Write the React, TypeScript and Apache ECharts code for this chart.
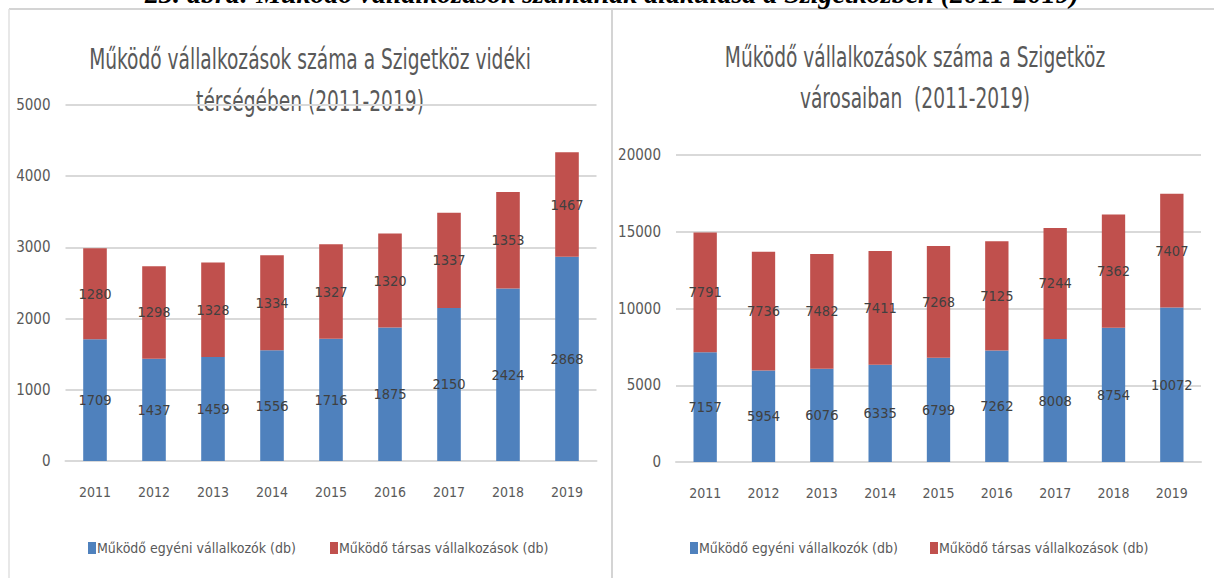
import React, { useEffect, useRef } from "react";
import * as echarts from "echarts";

const years = ["2011", "2012", "2013", "2014", "2015", "2016", "2017", "2018", "2019"];
const ruralIndividual = [1709, 1437, 1459, 1556, 1716, 1875, 2150, 2424, 2868];
const ruralCompany = [1280, 1298, 1328, 1334, 1327, 1320, 1337, 1353, 1467];
const townIndividual = [7157, 5954, 6076, 6335, 6799, 7262, 8008, 8754, 10072];
const townCompany = [7791, 7736, 7482, 7411, 7268, 7125, 7244, 7362, 7407];

const seriesNames = ["Működő egyéni vállalkozók (db)", "Működő társas vállalkozások (db)"];
const leftTitle = ["Működő vállalkozások száma a Szigetköz vidéki", "térségében (2011-2019)"];
const rightTitle = ["Működő vállalkozások száma a Szigetköz", "városaiban  (2011-2019)"];
const caption = "23. ábra: Működő vállalkozások számának alakulása a Szigetközben (2011-2019)";

const FONT = "'DejaVu Sans Condensed', 'Liberation Sans Narrow', sans-serif";
const BLUE = "#4F81BD";
const RED = "#C0504D";
const GRID = "#D9D9D9";
const TXT = "#595959";

export default function App() {
  const ref = useRef<HTMLDivElement>(null);
  useEffect(() => {
    if (!ref.current) return;
    const chart = echarts.init(ref.current, undefined, { renderer: "svg" });
    const xAxisBase = (gridIndex: number) => ({
      type: "category",
      gridIndex,
      data: years,
      axisLine: { lineStyle: { color: GRID, width: 2 } },
      axisTick: { show: false },
      axisLabel: { color: TXT, fontFamily: FONT, fontSize: 14, margin: 24 },
    });
    const yAxisBase = (gridIndex: number, max: number, interval: number) => ({
      type: "value",
      gridIndex,
      min: 0,
      max,
      interval,
      axisLine: { show: false },
      axisTick: { show: false },
      axisLabel: {
        color: TXT,
        fontFamily: FONT,
        fontSize: 15,
        margin: 15,
        formatter: (v: number) => String(v),
      },
      splitLine: { lineStyle: { color: GRID, width: 2 } },
    });
    const barSeries = (name: string, data: number[], color: string, idx: number, stack: string) => ({
      type: "bar",
      name,
      data,
      stack,
      xAxisIndex: idx,
      yAxisIndex: idx,
      barWidth: "40%",
      itemStyle: { color },
      label: {
        show: true,
        position: "inside",
        color: "#404040",
        fontFamily: FONT,
        fontSize: 14.5,
      },
    });
    const legendItem = (name: string, left: number) => ({
      data: [name],
      left,
      top: 541,
      itemWidth: 8,
      itemHeight: 12,
      itemGap: 0,
      padding: 0,
      icon: "rect",
      textStyle: { color: TXT, fontFamily: FONT, fontSize: 14, padding: [0, 0, 0, -4] },
    });
    const titleLine = (text: string, x: number, y: number) => ({
      type: "text",
      x,
      y,
      scaleY: 1.4,
      style: {
        text,
        textAlign: "center",
        textVerticalAlign: "middle",
        fill: TXT,
        font: `normal 20.7px ${FONT}`,
      },
    });
    chart.setOption({
      animation: false,
      backgroundColor: "#ffffff",
      legend: [
        legendItem(seriesNames[0], 88),
        legendItem(seriesNames[1], 330),
        legendItem(seriesNames[0], 690),
        legendItem(seriesNames[1], 930),
      ],
      grid: [
        { left: 65.5, right: 617.5, top: 105, bottom: 117 },
        { left: 676, right: 13, top: 155, bottom: 116 },
      ],
      xAxis: [xAxisBase(0), xAxisBase(1)],
      yAxis: [yAxisBase(0, 5000, 1000), yAxisBase(1, 20000, 5000)],
      series: [
        barSeries(seriesNames[0], ruralIndividual, BLUE, 0, "left"),
        barSeries(seriesNames[1], ruralCompany, RED, 0, "left"),
        barSeries(seriesNames[0], townIndividual, BLUE, 1, "right"),
        barSeries(seriesNames[1], townCompany, RED, 1, "right"),
      ],
      graphic: [
        { type: "line", shape: { x1: 9, y1: 9, x2: 1214, y2: 9 }, style: { stroke: "#D4D4D4", lineWidth: 2 } },
        { type: "line", shape: { x1: 9, y1: 9, x2: 9, y2: 578 }, style: { stroke: "#E0E0E0", lineWidth: 1.5 } },
        { type: "line", shape: { x1: 612, y1: 9, x2: 612, y2: 578 }, style: { stroke: "#D4D4D4", lineWidth: 2 } },
        titleLine(leftTitle[0], 310, 59),
        titleLine(leftTitle[1], 310, 101),
        titleLine(rightTitle[0], 915, 57),
        titleLine(rightTitle[1], 915, 98),
        {
          type: "text",
          x: 612,
          y: 7,
          style: {
            text: caption,
            textAlign: "center",
            textVerticalAlign: "bottom",
            fill: "#000000",
            font: "italic bold 28px 'Liberation Serif', 'DejaVu Serif', serif",
          },
        },
      ],
    });
    return () => chart.dispose();
  }, []);
  return (
    <div
      ref={ref}
      style={{ position: "absolute", left: 0, top: 0, width: 1214, height: 578, background: "#fff" }}
    />
  );
}
